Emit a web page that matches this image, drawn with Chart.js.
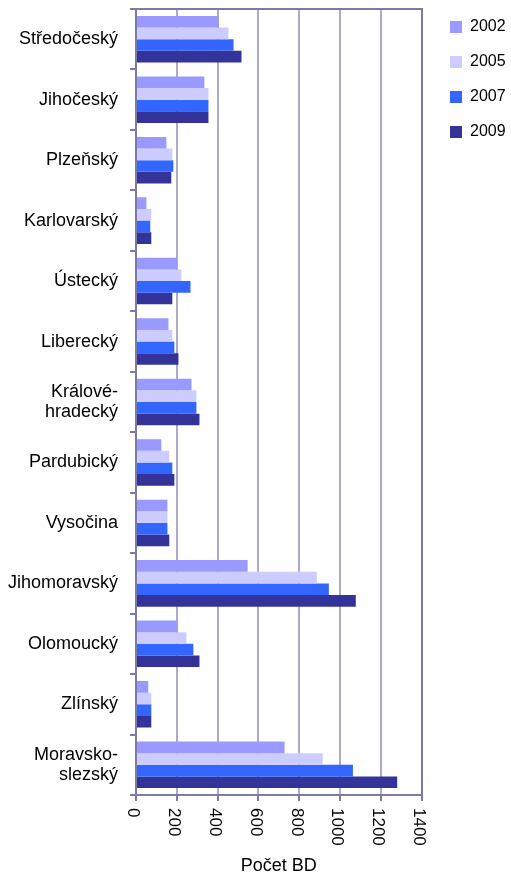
<!DOCTYPE html>
<html>
<head>
<meta charset="utf-8">
<script src="https://cdn.jsdelivr.net/npm/chart.js@4/dist/chart.umd.min.js"></script>
<style>
  html, body { margin: 0; padding: 0; background: #fff; }
  #wrap { width: 511px; height: 875px; }
</style>
</head>
<body>
<div id="wrap"><canvas id="graf"></canvas></div>
<script>
// kraje a pocty BD podle let
const kraje = ['Středočeský', 'Jihočeský', 'Plzeňský', 'Karlovarský', 'Ústecký', 'Liberecký',
  ['Králové-', 'hradecký'], 'Pardubický', 'Vysočina', 'Jihomoravský', 'Olomoucký', 'Zlínský',
  ['Moravsko-', 'slezský']];
const roky = ['2002', '2005', '2007', '2009'];
const bd2002 = [404, 335, 149, 51, 201, 159, 272, 124, 154, 547, 203, 60, 728];
const bd2005 = [453, 355, 178, 75, 222, 178, 296, 163, 154, 886, 247, 75, 915];
const bd2007 = [478, 355, 183, 70, 267, 188, 296, 178, 154, 945, 281, 75, 1063];
const bd2009 = [517, 355, 173, 75, 178, 208, 311, 188, 163, 1077, 311, 75, 1280];
const osaMax = 1400;
const osaKrok = 200;

const barvy = ['#9999ff', '#ccccff', '#3366ff', '#333399'];
const tmava = '#7b7ba6';
const svetla = '#ababc8';

Chart.defaults.font.family = '"Liberation Sans", Arial, sans-serif';
Chart.defaults.color = '#000';

// popisky osy x otocene po smeru hodin (Chart.js toci jen proti smeru)
const otoceneTicky = {
  id: 'otoceneTicky',
  afterDraw(chart) {
    const sc = chart.scales.x;
    const ctx = chart.ctx;
    ctx.save();
    ctx.font = '17px "Liberation Sans", Arial, sans-serif';
    ctx.fillStyle = '#000';
    ctx.textAlign = 'left';
    ctx.textBaseline = 'middle';
    sc.ticks.forEach(t => {
      ctx.save();
      ctx.translate(sc.getPixelForValue(t.value), sc.top + 13);
      ctx.rotate(Math.PI / 2);
      ctx.fillText(String(t.value), 0, 3);
      ctx.restore();
    });
    ctx.restore();
  }
};

const data = [bd2002, bd2005, bd2007, bd2009];

new Chart(document.querySelector('#graf'), {
  type: 'bar',
  data: {
    labels: kraje,
    datasets: roky.map((r, i) => ({
      label: r,
      data: data[i],
      backgroundColor: barvy[i],
      borderWidth: 0,
      categoryPercentage: 0.77,
      barPercentage: 1.0
    }))
  },
  options: {
    indexAxis: 'y',
    responsive: true,
    maintainAspectRatio: false,
    animation: false,
    layout: { padding: { right: -4.6 } },
    plugins: {
      tooltip: { enabled: false },
      legend: {
        position: 'right',
        align: 'start',
        labels: { boxWidth: 12, boxHeight: 12, padding: 19, font: { size: 16 }, color: '#000' }
      }
    },
    scales: {
      x: {
        type: 'linear',
        min: 0,
        max: osaMax,
        ticks: { stepSize: osaKrok, color: 'rgba(0,0,0,0)', minRotation: 90, maxRotation: 90, font: { size: 17 } },
        grid: {
          color: c => (c.tick && c.tick.value === osaMax) ? tmava : svetla,
          lineWidth: 2,
          tickLength: 6,
          tickColor: tmava
        },
        border: { color: tmava, width: 2 },
        title: { display: true, text: 'Počet BD', font: { size: 18, lineHeight: 1 }, color: '#000', padding: 0 },
        afterFit: s => { s.height = 80; s.paddingLeft = 0; s.paddingRight = 0; }
      },
      x2: {
        type: 'linear',
        axis: 'x',
        position: 'top',
        ticks: { display: false },
        grid: { display: false },
        border: { display: true, color: tmava, width: 2 },
        afterFit: s => { s.height = 9; }
      },
      y: {
        type: 'category',
        ticks: { font: { size: 18, lineHeight: 1.1 }, color: '#000', padding: 12, autoSkip: false },
        grid: { drawOnChartArea: false, tickLength: 6, color: tmava, lineWidth: 2 },
        border: { color: tmava, width: 2 },
        afterFit: s => { s.width = 136; s.paddingTop = 0; s.paddingBottom = 0; }
      },
      y2: {
        type: 'linear',
        axis: 'y',
        position: 'right',
        ticks: { display: false },
        grid: { display: false },
        border: { display: true, color: tmava, width: 2 },
        afterFit: s => { s.width = 9.3; }
      }
    }
  },
  plugins: [otoceneTicky]
});
</script>
</body>
</html>
